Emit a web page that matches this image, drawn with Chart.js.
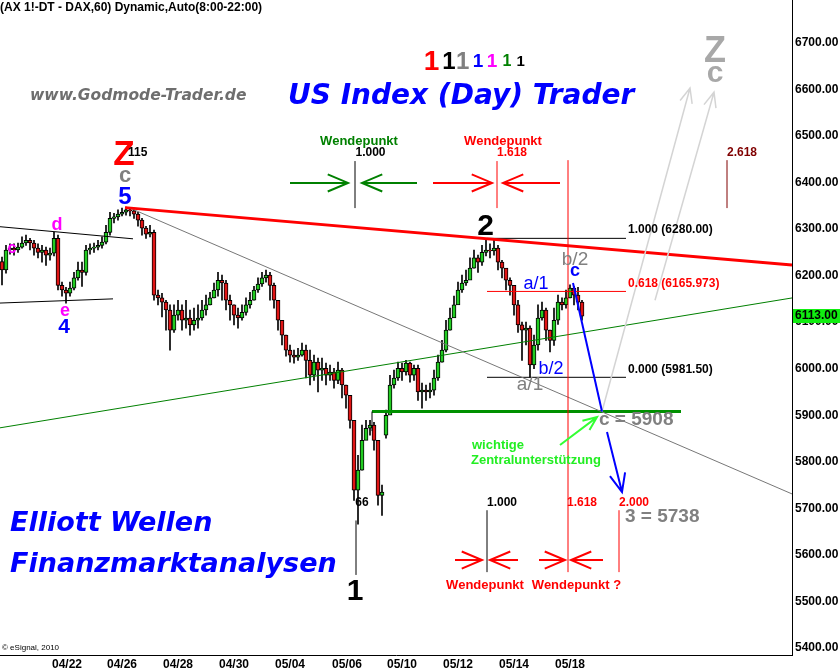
<!DOCTYPE html>
<html lang="de">
<head>
  <meta charset="UTF-8" />
  <title>DAX 60 – US Index (Day) Trader</title>
  <script src="https://cdn.jsdelivr.net/npm/chart.js"></script>
  <style>
    html, body { margin: 0; padding: 0; background: #fff; }
  </style>
</head>
<body>
<canvas id="daxChart" width="840" height="672"></canvas>
<script>
  // FDAX hourly, drawn as 2-hour candles (x = hour bar index)
  const opens = [
    6230, 6212, 6255, 6259, 6255, 6261, 6270, 6276, 6270, 6259,
    6250, 6255, 6244, 6248, 6280, 6179, 6169, 6162, 6173, 6195,
    6212, 6207, 6255, 6259, 6261, 6265, 6272, 6293, 6323, 6326,
    6332, 6336, 6341, 6339, 6332, 6319, 6302, 6289, 6293, 6158,
    6152, 6143, 6126, 6083, 6115, 6126, 6104, 6109, 6094, 6104,
    6109, 6126, 6137, 6152, 6169, 6190, 6184, 6147, 6137, 6115,
    6109, 6121, 6137, 6147, 6169, 6182, 6195, 6201, 6179, 6147,
    6104, 6072, 6040, 6029, 6025, 6029, 6040, 6018, 5986, 6014,
    5997, 6001, 5986, 5993, 5975, 5997, 5965, 5943, 5889, 5739,
    5782, 5846, 5872, 5879, 5846, 5728, 5857, 5900, 5965, 5980,
    6001, 5993, 6012, 5986, 6001, 5950, 5954, 5950, 5954, 5980,
    6014, 6040, 6083, 6109, 6137, 6169, 6184, 6190, 6216, 6238,
    6229, 6250, 6255, 6253, 6259, 6229, 6216, 6190, 6179, 6137,
    6094, 6083, 6087, 6008, 6051, 6109, 6126, 6083, 6061, 6104,
    6143, 6137, 6152, 6173, 6158, 6143
  ];
  const highs = [
    6240, 6265, 6268, 6268, 6270, 6283, 6287, 6280, 6276, 6268,
    6265, 6261, 6259, 6293, 6287, 6186, 6175, 6186, 6207, 6229,
    6229, 6265, 6268, 6270, 6276, 6283, 6308, 6336, 6334, 6341,
    6345, 6347, 6345, 6341, 6336, 6323, 6306, 6308, 6298, 6169,
    6162, 6147, 6137, 6137, 6147, 6137, 6147, 6126, 6130, 6137,
    6147, 6158, 6164, 6184, 6207, 6201, 6190, 6158, 6137, 6130,
    6137, 6152, 6164, 6177, 6195, 6207, 6212, 6207, 6184, 6147,
    6104, 6072, 6051, 6040, 6044, 6055, 6051, 6040, 6029, 6023,
    6023, 6012, 6008, 6001, 6014, 6001, 5965, 5943, 5889, 5814,
    5879, 5889, 5889, 5885, 5846, 5750, 5911, 5986, 5997, 6014,
    6012, 6018, 6014, 6008, 6008, 5969, 5965, 5969, 5997, 6029,
    6061, 6104, 6130, 6156, 6186, 6201, 6212, 6238, 6255, 6244,
    6265, 6280, 6268, 6276, 6265, 6233, 6212, 6195, 6169, 6147,
    6100, 6100, 6092, 6072, 6137, 6143, 6130, 6083, 6130, 6158,
    6152, 6169, 6180, 6177, 6175, 6147
  ];
  const lows = [
    6180, 6205, 6246, 6244, 6250, 6259, 6265, 6255, 6244, 6238,
    6229, 6222, 6233, 6242, 6169, 6156, 6141, 6156, 6169, 6190,
    6177, 6201, 6246, 6250, 6255, 6259, 6268, 6287, 6313, 6319,
    6328, 6330, 6328, 6323, 6306, 6287, 6280, 6283, 6147, 6137,
    6111, 6083, 6040, 6078, 6104, 6083, 6087, 6072, 6083, 6087,
    6104, 6115, 6137, 6152, 6156, 6147, 6126, 6104, 6094, 6087,
    6104, 6115, 6130, 6147, 6164, 6177, 6186, 6147, 6130, 6083,
    6051, 6027, 6014, 6012, 6018, 6027, 5980, 5965, 5975, 5950,
    5975, 5965, 5975, 5958, 5968, 5937, 5915, 5872, 5717, 5666,
    5782, 5851, 5857, 5825, 5707, 5685, 5851, 5932, 5958, 5975,
    5975, 5986, 5971, 5975, 5932, 5915, 5932, 5937, 5943, 5975,
    6014, 6036, 6083, 6115, 6147, 6164, 6179, 6201, 6216, 6207,
    6222, 6242, 6238, 6244, 6212, 6195, 6169, 6158, 6115, 6078,
    6018, 6051, 5982, 6000, 6040, 6104, 6061, 6036, 6050, 6095,
    6126, 6130, 6152, 6137, 6126, 6104
  ];
  const closes = [
    6212, 6255, 6259, 6255, 6261, 6270, 6276, 6270, 6259, 6250,
    6255, 6244, 6248, 6280, 6179, 6169, 6162, 6173, 6195, 6212,
    6207, 6255, 6259, 6261, 6265, 6272, 6293, 6323, 6326, 6332,
    6336, 6341, 6339, 6332, 6319, 6302, 6289, 6293, 6158, 6152,
    6143, 6126, 6083, 6115, 6126, 6104, 6109, 6094, 6104, 6109,
    6126, 6137, 6152, 6169, 6190, 6184, 6147, 6137, 6115, 6109,
    6121, 6137, 6147, 6169, 6182, 6195, 6201, 6179, 6147, 6104,
    6072, 6040, 6029, 6025, 6029, 6040, 6018, 5986, 6014, 5997,
    6001, 5986, 5993, 5975, 5997, 5965, 5943, 5889, 5739, 5782,
    5846, 5872, 5879, 5846, 5728, 5735, 5900, 5965, 5980, 6001,
    5993, 6012, 5986, 6001, 5950, 5954, 5950, 5954, 5980, 6014,
    6040, 6083, 6109, 6137, 6169, 6184, 6190, 6216, 6238, 6229,
    6250, 6255, 6253, 6259, 6229, 6216, 6190, 6179, 6137, 6094,
    6083, 6087, 6008, 6051, 6109, 6126, 6083, 6061, 6104, 6143,
    6137, 6152, 6173, 6158, 6143, 6113
  ];

  const dateBars = [33.5, 61, 89, 117, 145, 173.5, 201, 229, 257, 285];
  const dateLabels = ['04/22', '04/26', '04/28', '04/30', '05/04', '05/06', '05/10', '05/12', '05/14', '05/18'];
  const priceTicks = [5400, 5500, 5600, 5700, 5800, 5900, 6000, 6100, 6200, 6300, 6400, 6500, 6600, 6700];

  const FA = '"Liberation Sans", Arial, sans-serif';
  const FD = '"DejaVu Sans", Verdana, sans-serif';
  const RED = '#ff0000', BLUE = '#0000ff', GRAY = '#808080', LGRAY = '#a8a8a8';

  // [text, bar, price, colour, font, align]
  const notes = [
    ['(AX 1!-DT - DAX,60) Dynamic,Auto(8:00-22:00)', 0, 6775, '#000', 'bold 12px ' + FA, 'left'],
    ['www.Godmode-Trader.de', 15, 6586, '#6e6e6e', 'italic bold 15.5px ' + FD, 'left'],
    ['US Index (Day) Trader', 144, 6584, BLUE, 'italic bold 28px ' + FD, 'left'],
    ['1', 215.8, 6659, RED, 'bold 28px ' + FA, 'center'],
    ['1', 224.5, 6659, '#000', 'bold 24px ' + FA, 'center'],
    ['1', 231.3, 6659, GRAY, 'bold 24px ' + FA, 'center'],
    ['1', 239, 6659, BLUE, 'bold 19px ' + FA, 'center'],
    ['1', 246, 6659, '#ff00ff', 'bold 19px ' + FA, 'center'],
    ['1', 253.5, 6659, '#008000', 'bold 16px ' + FA, 'center'],
    ['1', 260.3, 6659, '#000', 'bold 15px ' + FA, 'center'],
    ['Z', 357.5, 6680, LGRAY, 'bold 36px ' + FA, 'center'],
    ['c', 357.5, 6633, LGRAY, 'bold 30px ' + FA, 'center'],
    ['Wendepunkt', 179.5, 6489, '#008000', 'bold 13px ' + FA, 'center'],
    ['1.000', 185.25, 6463, '#000', 'bold 12px ' + FA, 'center'],
    ['Wendepunkt', 251.5, 6489, RED, 'bold 13px ' + FA, 'center'],
    ['1.618', 256, 6463, RED, 'bold 12px ' + FA, 'center'],
    ['2.618', 363.5, 6463, '#800000', 'bold 12px ' + FA, 'left'],
    ['Z', 62, 6459, RED, 'bold 35px ' + FA, 'center'],
    ['115', 64, 6463, '#000', 'bold 12px ' + FA, 'left'],
    ['c', 62.5, 6414, GRAY, 'bold 22px ' + FA, 'center'],
    ['5', 62.5, 6369, BLUE, 'bold 24px ' + FA, 'center'],
    ['d', 28.5, 6309, '#ff00ff', 'bold 18px ' + FA, 'center'],
    ['c', 6, 6259, '#ff00ff', 'bold 16px ' + FA, 'center'],
    ['e', 32.5, 6124, '#ff00ff', 'bold 18px ' + FA, 'center'],
    ['4', 32, 6089, BLUE, 'bold 21px ' + FA, 'center'],
    ['2', 242.75, 6306, '#000', 'bold 30px ' + FA, 'center'],
    ['a/1', 268, 6182, BLUE, '18px ' + FA, 'center'],
    ['b/2', 287.5, 6235, GRAY, '19px ' + FA, 'center'],
    ['c', 287.5, 6209, BLUE, 'bold 18px ' + FA, 'center'],
    ['b/2', 275.5, 5999, BLUE, '18px ' + FA, 'center'],
    ['a/1', 265, 5965, GRAY, '19px ' + FA, 'center'],
    ['1.000 (6280.00)', 314, 6298, '#000', 'bold 12px ' + FA, 'left'],
    ['0.618 (6165.973)', 314, 6182, RED, 'bold 12px ' + FA, 'left'],
    ['0.000 (5981.50)', 314, 5997, '#000', 'bold 12px ' + FA, 'left'],
    ['c = 5908', 299.5, 5890, GRAY, 'bold 19px ' + FA, 'left'],
    ['3 = 5738', 312.5, 5681, GRAY, 'bold 19px ' + FA, 'left'],
    ['wichtige', 236, 5836, '#22ee22', 'bold 13px ' + FA, 'left'],
    ['Zentralunterstützung', 235.5, 5804, '#22ee22', 'bold 13px ' + FA, 'left'],
    ['66', 181, 5713, '#000', 'bold 12px ' + FA, 'center'],
    ['1.000', 243.5, 5713, '#000', 'bold 12px ' + FA, 'left'],
    ['1.618', 283.5, 5713, RED, 'bold 12px ' + FA, 'left'],
    ['2.000', 309.5, 5713, RED, 'bold 12px ' + FA, 'left'],
    ['Wendepunkt', 242.5, 5535, RED, 'bold 13px ' + FA, 'center'],
    ['Wendepunkt ?', 288.25, 5535, RED, 'bold 13px ' + FA, 'center'],
    ['1', 177.5, 5520, '#000', 'bold 30px ' + FA, 'center'],
    ['Elliott Wellen', 5, 5666, BLUE, 'italic bold 27px ' + FD, 'left'],
    ['Finanzmarktanalysen', 5, 5578, BLUE, 'italic bold 27px ' + FD, 'left'],
    ['\u00a9 eSignal, 2010', 1, 5400, '#000', '8px ' + FA, 'left']
  ];

  // [bar1, price1, bar2, price2, colour, width, arrowhead]
  const strokes = [
    [177.5, 6446, 177.5, 6345, '#000', 1, 0],
    [248.5, 6446, 248.5, 6345, RED, 1, 0],
    [284, 6448, 284, 5563, RED, 1, 0],
    [363.5, 6448, 363.5, 6345, '#800000', 1, 0],
    [243.5, 5696, 243.5, 5563, '#000', 1, 0],
    [309.5, 5696, 309.5, 5563, RED, 1, 0],
    [178, 5674, 178, 5557, '#000', 1, 0],
    [186, 5908, 186, 5866, '#000', 1, 0],
    [145, 6399, 174, 6399, '#008000', 2, 22],
    [208.5, 6399, 181, 6399, '#008000', 2, 22],
    [216.5, 6399, 246, 6399, RED, 2, 22],
    [280, 6399, 251.5, 6399, RED, 2, 22],
    [227.5, 5589, 241, 5589, RED, 2, 22],
    [259, 5589, 245, 5589, RED, 2, 22],
    [269.5, 5589, 282.5, 5589, RED, 2, 22],
    [301.5, 5589, 285.5, 5589, RED, 2, 22],
    [301, 5908, 345, 6603, '#d4d4d4', 1.5, 16],
    [327.5, 6147, 357, 6594, '#d4d4d4', 1.5, 16],
    [286.5, 6184, 301, 5908, BLUE, 2, 0],
    [303.5, 5864, 311, 5735, BLUE, 2, 20],
    [280, 5836, 298.5, 5896, '#33ff33', 2, 15]
  ];

  function seg(pts, color, width) {
    return { type: 'line', data: pts.map(p => ({ x: p[0], y: p[1] })), borderColor: color,
      borderWidth: width, pointRadius: 0, tension: 0, order: 1 };
  }

  const overlay = {
    id: 'overlay',
    beforeDraw(chart) {
      const ctx = chart.ctx;
      ctx.save();
      ctx.fillStyle = '#fff';
      ctx.fillRect(0, 0, chart.width, chart.height);
      ctx.restore();
    },
    afterDatasetsDraw(chart) {
      const { ctx, scales: { x, y } } = chart;
      ctx.save();
      ctx.lineCap = 'butt';
      strokes.forEach(([b1, p1, b2, p2, color, w, head]) => {
        const x1 = x.getPixelForValue(b1), y1 = y.getPixelForValue(p1);
        const x2 = x.getPixelForValue(b2), y2 = y.getPixelForValue(p2);
        ctx.strokeStyle = color;
        ctx.lineWidth = w;
        ctx.beginPath();
        ctx.moveTo(x1, y1);
        ctx.lineTo(x2, y2);
        if (head) {
          const a = Math.atan2(y2 - y1, x2 - x1);
          ctx.moveTo(x2 - head * Math.cos(a - 0.4), y2 - head * Math.sin(a - 0.4));
          ctx.lineTo(x2, y2);
          ctx.lineTo(x2 - head * Math.cos(a + 0.4), y2 - head * Math.sin(a + 0.4));
        }
        ctx.stroke();
      });
      ctx.textBaseline = 'middle';
      notes.forEach(([t, b, p, color, font, align]) => {
        ctx.font = font;
        ctx.fillStyle = color;
        ctx.textAlign = align;
        ctx.fillText(t, x.getPixelForValue(b), y.getPixelForValue(p));
      });
      ctx.restore();
    },
    afterDraw(chart) {
      const { ctx, chartArea, scales: { y } } = chart;
      const last = closes[closes.length - 1];
      const yy = Math.round(y.getPixelForValue(last));
      ctx.save();
      ctx.fillStyle = '#11ee11';
      ctx.fillRect(chartArea.right + 1, yy - 7, chart.width - chartArea.right - 1, 14);
      ctx.fillStyle = '#000';
      ctx.font = 'bold 12px ' + FA;
      ctx.textBaseline = 'middle';
      ctx.textAlign = 'left';
      ctx.fillText(last.toFixed(2), chartArea.right + 3, yy);
      ctx.restore();
    }
  };

  const barX = closes.map((_, i) => 2 * i + 1);

  new Chart(document.getElementById('daxChart'), {
    type: 'bar',
    data: {
      datasets: [
        seg([[62.5, 6346], [396, 6223]], RED, 3),
        seg([[65, 6345], [396, 5731]], '#777', 1),
        seg([[0, 5873], [396, 6152]], '#008000', 1),
        seg([[0, 6305], [66.5, 6279]], '#000', 1),
        seg([[0, 6141], [56.5, 6150]], '#000', 1),
        seg([[186, 5908], [340.5, 5908]], '#009000', 3),
        seg([[243.5, 6280], [313, 6280]], '#000', 1),
        seg([[243.5, 6165.973], [313, 6165.973]], RED, 1),
        seg([[243.5, 5981.5], [313, 5981.5]], '#000', 1),
        {
          data: closes.map((c, i) => ({ x: barX[i], y: [opens[i], c] })),
          backgroundColor: closes.map((c, i) => c >= opens[i] ? '#22cc22' : '#e01515'),
          borderColor: '#000', borderWidth: 1, borderSkipped: false,
          barThickness: 4, grouped: false, order: 2
        },
        {
          data: closes.map((c, i) => ({ x: barX[i], y: [lows[i], highs[i]] })),
          backgroundColor: '#000', borderWidth: 0,
          barThickness: 1, grouped: false, order: 3
        }
      ]
    },
    options: {
      responsive: false,
      animation: false,
      devicePixelRatio: 1,
      layout: { padding: 0 },
      plugins: { legend: { display: false }, tooltip: { enabled: false } },
      scales: {
        x: {
          type: 'linear', min: 0, max: 396, offset: false,
          grid: { display: false, drawTicks: false },
          border: { display: true, color: '#000', width: 1 },
          afterBuildTicks: s => { s.ticks = dateBars.map(v => ({ value: v })); },
          afterFit: s => { s.height = 17; s.paddingLeft = 0; s.paddingRight = 0; },
          ticks: {
            autoSkip: false, maxRotation: 0, padding: 2, color: '#000',
            font: { family: FA, size: 12, weight: 'bold' },
            callback: (v, i) => dateLabels[i]
          }
        },
        y: {
          position: 'right', min: 5385, max: 6792,
          grid: { display: false, drawTicks: false },
          border: { display: true, color: '#000', width: 1 },
          afterBuildTicks: s => { s.ticks = priceTicks.map(v => ({ value: v })); },
          afterFit: s => { s.width = 48; s.paddingTop = 0; s.paddingBottom = 0; },
          ticks: {
            padding: 3, color: '#000',
            font: { family: FA, size: 12, weight: 'bold' },
            callback: v => v.toFixed(2)
          }
        }
      }
    },
    plugins: [overlay]
  });
</script>
</body>
</html>
